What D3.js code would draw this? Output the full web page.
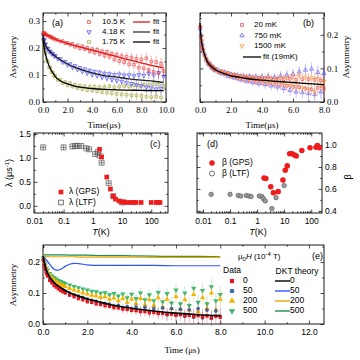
<!DOCTYPE html>
<html lang="en">
<head>
<meta charset="utf-8">
<script src="https://d3js.org/d3.v7.min.js"></script>
<style>
  body { margin: 0; background: #fff; }
  .serif text { font-family: "Liberation Serif", "DejaVu Serif", serif; }
  .sans text { font-family: "Liberation Sans", Arial, sans-serif; }
</style>
</head>
<body>
<div id="chart"></div>
<script>
// ---------- panel (a): asymmetry vs time at three temperatures ----------
const timeA = [0.02,0.06,0.1,0.15,0.2,0.3,0.4,0.5,0.6,0.7,0.8,0.9,
  1.0,1.2,1.4,1.6,1.8,2.0,2.2,2.4,2.6,2.8,3.0,3.2,3.4,3.6,3.8,4.0,4.2,4.4,4.6,4.8,
  5.0,5.2,5.4,5.6,5.8,6.0,6.2,6.4,6.6,6.8,7.0,7.2,7.4,7.6,7.8,8.0,8.2,8.4,8.6,8.8,
  9.0,9.2,9.4,9.6,9.8];
const asym105K = [0.256,0.252,0.257,0.250,0.253,0.248,0.246,0.244,0.240,0.241,0.235,0.236,
  0.231,0.230,0.224,0.226,0.218,0.219,0.212,0.216,0.205,0.210,0.199,0.207,0.196,0.201,0.188,0.196,
  0.183,0.194,0.178,0.188,0.172,0.186,0.168,0.179,0.158,0.175,0.152,0.170,0.148,0.168,0.140,0.165,
  0.138,0.160,0.128,0.158,0.125,0.162,0.118,0.150,0.112,0.148,0.108,0.142,0.115];
const asym418K = [0.248,0.232,0.229,0.215,0.214,0.200,0.198,0.187,0.188,0.178,0.180,0.170,
  0.172,0.160,0.160,0.147,0.150,0.137,0.141,0.128,0.134,0.120,0.127,0.113,0.122,0.107,0.117,0.101,
  0.113,0.097,0.110,0.092,0.106,0.088,0.104,0.083,0.101,0.080,0.103,0.076,0.099,0.072,0.100,0.068,
  0.097,0.064,0.101,0.060,0.098,0.055,0.105,0.052,0.100,0.048,0.108,0.050,0.095];
const asym175K = [0.232,0.208,0.203,0.184,0.180,0.156,0.149,0.129,0.127,0.111,0.110,0.096,
  0.098,0.082,0.083,0.070,0.074,0.062,0.070,0.057,0.064,0.052,0.060,0.048,0.058,0.045,0.056,0.043,
  0.057,0.040,0.055,0.037,0.056,0.035,0.058,0.033,0.055,0.030,0.057,0.028,0.059,0.027,0.058,0.025,
  0.062,0.024,0.060,0.022,0.064,0.020,0.063,0.018,0.066,0.020,0.064,0.017,0.060];
const errA = [0.003,0.003,0.003,0.003,0.003,0.003,0.003,0.003,0.004,0.004,0.004,0.004,
  0.004,0.005,0.005,0.005,0.006,0.006,0.006,0.007,0.007,0.007,0.008,0.008,0.008,0.009,0.009,0.010,
  0.010,0.010,0.011,0.011,0.012,0.012,0.012,0.013,0.013,0.014,0.014,0.015,0.015,0.016,0.016,0.017,
  0.017,0.018,0.018,0.019,0.019,0.020,0.020,0.021,0.021,0.022,0.022,0.023,0.023];
const fitTimeA = [0,0.1,0.2,0.3,0.5,0.75,1,1.5,2,2.5,3,4,5,6,7,8,9,9.8];
const fit105K = [0.255,0.253,0.251,0.249,0.245,0.240,0.233,0.225,0.217,0.210,0.204,0.192,0.180,0.168,0.156,0.145,0.134,0.127];
const fit418K = [0.250,0.226,0.212,0.203,0.190,0.179,0.170,0.154,0.141,0.130,0.122,0.108,0.098,0.092,0.086,0.081,0.077,0.073];
const fit175K = [0.236,0.200,0.177,0.160,0.133,0.112,0.094,0.076,0.067,0.060,0.055,0.050,0.047,0.045,0.044,0.043,0.042,0.042];

// ---------- panel (b): low temperature runs ----------
const timeB = [0.02,0.06,0.1,0.15,0.2,0.3,0.4,0.5,0.6,0.7,0.8,0.9,
  1.0,1.2,1.4,1.6,1.8,2.0,2.2,2.4,2.6,2.8,3.0,3.2,3.4,3.6,3.8,4.0,4.2,4.4,4.6,4.8,
  5.0,5.2,5.4,5.6,5.8,6.0,6.2,6.4,6.6,6.8,7.0,7.2,7.4,7.6,7.8,8.0];
const asym20mK = [0.224,0.195,0.183,0.163,0.157,0.137,0.130,0.115,0.115,0.105,0.106,0.096,
  0.098,0.088,0.092,0.082,0.087,0.075,0.082,0.070,0.078,0.066,0.076,0.063,0.074,0.060,0.072,0.058,
  0.071,0.055,0.070,0.053,0.069,0.050,0.068,0.048,0.069,0.045,0.066,0.044,0.068,0.040,0.067,0.038,
  0.066,0.042,0.064,0.040];
const asym750mK = [0.218,0.200,0.176,0.170,0.152,0.143,0.125,0.121,0.110,0.111,0.100,0.102,
  0.093,0.095,0.084,0.089,0.077,0.083,0.072,0.080,0.066,0.078,0.062,0.077,0.058,0.076,0.055,0.075,
  0.052,0.076,0.048,0.074,0.045,0.078,0.040,0.080,0.035,0.083,0.030,0.090,0.028,0.095,0.025,0.098,
  0.022,0.088,0.030,0.085];
const asym1500mK = [0.221,0.193,0.181,0.168,0.153,0.141,0.126,0.119,0.112,0.106,0.104,0.098,
  0.099,0.090,0.090,0.086,0.084,0.080,0.079,0.077,0.074,0.075,0.072,0.071,0.070,0.069,0.066,0.070,
  0.062,0.071,0.060,0.068,0.058,0.070,0.054,0.072,0.050,0.075,0.046,0.078,0.042,0.074,0.038,0.072,
  0.030,0.070,0.048,0.062];
const errB = [0.003,0.003,0.003,0.003,0.003,0.003,0.003,0.003,0.003,0.003,0.003,0.003,
  0.004,0.004,0.005,0.005,0.006,0.006,0.007,0.007,0.008,0.008,0.009,0.009,0.010,0.010,0.011,0.011,
  0.012,0.012,0.013,0.013,0.014,0.014,0.015,0.015,0.016,0.016,0.017,0.017,0.018,0.018,0.019,0.019,
  0.020,0.020,0.021,0.021];
const fitTimeB = [0,0.05,0.1,0.2,0.3,0.5,0.75,1,1.5,2,2.5,3,4,5,6,7,8];
const fit19mK = [0.235,0.200,0.180,0.155,0.140,0.118,0.105,0.096,0.085,0.078,0.074,0.070,0.065,0.061,0.058,0.055,0.052];

// ---------- panel (c): relaxation rate lambda vs T ----------
const tempLamGPS = [1.7,2.0,3.0,4.0,5.0,6.0,8.0,10,12,15,20,25,30,45,100,150,175,200];
const lamGPS = [1.18,1.02,0.60,0.35,0.20,0.14,0.10,0.08,0.08,0.07,0.07,0.07,0.07,0.07,0.07,0.07,0.07,0.07];
const tempLamLTF = [0.02,0.1,0.2,0.25,0.3,0.4,0.6,0.75,1.2,1.5,1.7,2.0,3.5,5.0,10];
const lamLTF = [1.22,1.22,1.24,1.25,1.25,1.25,1.20,1.18,1.08,1.12,1.05,0.90,0.47,0.20,0.07];

// ---------- panel (d): stretching exponent beta vs T ----------
const tempBetaGPS = [1.8,2.1,3.2,4.0,6.0,9.0,11,13,16,20,24,28,45,90,150,170,200];
const betaGPS = [0.70,0.695,0.62,0.565,0.575,0.68,0.77,0.81,0.92,0.92,0.91,0.90,0.95,0.975,0.98,0.995,0.975];
const tempBetaLTF = [0.02,0.1,0.2,0.25,0.4,0.5,0.6,1.2,1.5,1.7,2.0,3.5,5.0,10];
const betaLTF = [0.55,0.55,0.54,0.535,0.54,0.535,0.53,0.535,0.53,0.51,0.49,0.42,0.52,0.63];

// ---------- panel (e): longitudinal field runs + DKT theory ----------
const fieldLabels = ["0","50","200","500"];
const asymH0 = [0.205,0.188,0.176,0.163,0.155,0.141,0.133,0.124,0.119,0.113,0.108,0.104,
  0.100,0.093,0.088,0.082,0.078,0.072,0.070,0.065,0.063,0.059,0.057,0.053,0.052,0.048,0.047,0.044,
  0.043,0.040,0.040,0.036,0.037,0.034,0.034,0.031,0.032,0.029,0.030,0.027,0.028,0.025,0.027,0.023,
  0.026,0.020,0.025,0.022];
const asymH50 = [0.208,0.192,0.180,0.168,0.160,0.146,0.138,0.130,0.124,0.118,0.114,0.110,
  0.106,0.100,0.094,0.090,0.085,0.080,0.076,0.073,0.068,0.066,0.064,0.058,0.060,0.052,0.056,0.048,
  0.055,0.042,0.054,0.040,0.050,0.036,0.052,0.030,0.050,0.028,0.048,0.025,0.046,0.022,0.050,0.020,
  0.045,0.018,0.042,0.025];
const asymH200 = [0.210,0.196,0.186,0.176,0.168,0.156,0.148,0.142,0.136,0.131,0.127,0.124,
  0.121,0.115,0.110,0.106,0.100,0.097,0.093,0.091,0.086,0.088,0.080,0.084,0.075,0.082,0.070,0.080,
  0.066,0.082,0.062,0.078,0.060,0.085,0.055,0.080,0.050,0.088,0.048,0.078,0.045,0.095,0.040,0.085,
  0.050,0.100,0.045,0.080];
const asymH500 = [0.212,0.200,0.190,0.181,0.174,0.163,0.156,0.150,0.145,0.140,0.137,0.134,
  0.131,0.126,0.121,0.117,0.113,0.110,0.106,0.104,0.099,0.101,0.094,0.098,0.090,0.097,0.085,0.096,
  0.082,0.100,0.078,0.094,0.075,0.102,0.072,0.098,0.068,0.110,0.065,0.100,0.060,0.115,0.070,0.108,
  0.065,0.120,0.075,0.095];
const errE = [0.004,0.004,0.004,0.004,0.004,0.004,0.004,0.004,0.004,0.004,0.004,0.004,
  0.005,0.005,0.006,0.006,0.007,0.008,0.008,0.009,0.010,0.010,0.011,0.012,0.012,0.013,0.014,0.014,
  0.015,0.016,0.016,0.017,0.018,0.018,0.019,0.020,0.020,0.021,0.022,0.022,0.023,0.024,0.024,0.025,
  0.026,0.026,0.027,0.028];
const dktTime = [0,0.1,0.2,0.3,0.4,0.5,0.6,0.7,0.8,1.0,1.2,1.4,1.6,2,2.5,3,4,5,6,7,8];
const dktH0 = [0.220,0.185,0.165,0.152,0.142,0.134,0.127,0.122,0.117,0.108,0.101,0.095,0.090,0.081,0.072,0.063,0.051,0.042,0.035,0.030,0.027];
const dktH50 = [0.218,0.212,0.203,0.193,0.184,0.177,0.174,0.174,0.177,0.186,0.193,0.196,0.195,0.191,0.189,0.189,0.189,0.189,0.188,0.188,0.188];
const dktH200 = [0.221,0.219,0.218,0.217,0.217,0.217,0.217,0.217,0.217,0.217,0.217,0.217,0.216,0.216,0.216,0.216,0.216,0.215,0.215,0.215,0.215];
const dktH500 = [0.223,0.223,0.223,0.223,0.223,0.223,0.223,0.223,0.223,0.223,0.222,0.222,0.222,0.222,0.221,0.221,0.220,0.219,0.218,0.218,0.217];

// ======================================================================
const svg = d3.select("#chart").append("svg").attr("width", 360).attr("height", 360);

const sym = (type, size) => d3.symbol().type(type).size(size)();
const pts = (xs, ys) => xs.map((x, i) => ({x: x, y: ys[i]}));

// draws a framed panel with inward ticks on all four sides
function panel(o) {
  const g = svg.append("g").attr("class", o.font);
  const x = o.x, y = o.y;
  const [x0, x1] = x.range(), [y0, y1] = y.range();
  const ax = (axis, tr, vals, size, fmt) => {
    const a = g.append("g").attr("transform", tr)
      .call(axis.tickValues(vals).tickSize(size).tickPadding(3).tickFormat(fmt || ""));
    a.select(".domain").remove();
    a.selectAll("line").attr("stroke", "#000").attr("stroke-width", 0.7);
    a.selectAll("text").attr("font-size", o.fs || 9).attr("fill", "#000");
    return a;
  };
  // minor ticks first, major after
  ax(d3.axisBottom(x), `translate(0,${y0})`, o.xminor, -1.8);
  ax(d3.axisTop(x), `translate(0,${y1})`, o.xminor, -1.8);
  ax(d3.axisLeft(y), `translate(${x0},0)`, o.yminor, -1.8);
  ax(d3.axisRight(y), `translate(${x1},0)`, o.yminor, -1.8);
  ax(d3.axisBottom(x), `translate(0,${y0})`, o.xmajor, -3.5, o.xfmt).selectAll("text").attr("dy", "0.9em");
  ax(d3.axisTop(x), `translate(0,${y1})`, o.xmajor, -3.5);
  ax(d3.axisLeft(y), `translate(${x0},0)`, o.ymajor, -3.5, o.yleft ? o.yfmt : null);
  ax(d3.axisRight(y), `translate(${x1},0)`, o.ymajor, -3.5, o.yleft ? null : o.yfmt);
  g.append("rect").attr("x", x0).attr("y", y1).attr("width", x1 - x0).attr("height", y0 - y1)
    .attr("fill", "none").attr("stroke", "#000").attr("stroke-width", 0.9);
  const body = svg.append("g");
  return body;
}

function scatter(g, data, x, y, o) {
  if (o.err) {
    g.append("g").selectAll("line").data(data).join("line")
      .attr("x1", d => x(d.x)).attr("x2", d => x(d.x))
      .attr("y1", d => y(d.y - d.e)).attr("y2", d => y(d.y + d.e))
      .attr("stroke", o.color).attr("stroke-width", 0.6).attr("opacity", o.errOp || 0.6);
  }
  g.append("g").selectAll("path").data(data).join("path")
    .attr("d", sym(o.type, o.size))
    .attr("transform", d => `translate(${x(d.x)},${y(d.y)})${o.flip ? " rotate(180)" : ""}`)
    .attr("fill", o.fill || "none")
    .attr("stroke", o.stroke || o.color).attr("stroke-width", o.sw || 0.6);
}

function curve(g, xs, ys, x, y, color, w) {
  g.append("path").datum(pts(xs, ys))
    .attr("d", d3.line().x(d => x(d.x)).y(d => y(d.y)).curve(d3.curveMonotoneX))
    .attr("fill", "none").attr("stroke", color).attr("stroke-width", w || 1.3);
}

function label(txt, x, y, o) {
  const t = svg.append("text").attr("x", x).attr("y", y)
    .attr("font-family", o.serif ? "Liberation Serif, serif" : "Liberation Sans, Arial, sans-serif")
    .attr("font-size", o.fs || 9).attr("text-anchor", o.anchor || "start")
    .attr("dominant-baseline", "middle").attr("fill", "#000");
  if (o.rot) t.attr("transform", `rotate(${o.rot},${x},${y})`);
  if (o.html) t.html(txt); else t.text(txt);
  return t;
}

const range = (a, b, s) => d3.range(a, b + 1e-9, s);
const f1 = d3.format(".1f");

// ---------------- (a) ----------------
{
  const x = d3.scaleLinear([0, 10], [43, 166]);
  const y = d3.scaleLinear([0, 0.33], [102, 13]);
  const g = panel({x, y, font: "serif", xmajor: range(0, 10, 2), xminor: range(1, 9, 2),
    ymajor: [0, 0.1, 0.2, 0.3], yminor: [0.05, 0.15, 0.25], xfmt: f1, yfmt: f1, yleft: true});
  const c105 = "#ee2a2a", c418 = "#3a3aee", c175 = "#9c9c2c";
  scatter(g, timeA.map((t, i) => ({x: t, y: asym175K[i], e: errA[i]})), x, y, {type: d3.symbolSquare, size: 7, color: c175, err: true});
  scatter(g, timeA.map((t, i) => ({x: t, y: asym418K[i], e: errA[i]})), x, y, {type: d3.symbolTriangle, size: 7, color: c418, flip: true, err: true});
  scatter(g, timeA.map((t, i) => ({x: t, y: asym105K[i], e: errA[i]})), x, y, {type: d3.symbolSquare, size: 7, color: c105, err: true});
  curve(g, fitTimeA, fit105K, x, y, "#e01818");
  curve(g, fitTimeA, fit418K, x, y, "#222");
  curve(g, fitTimeA, fit175K, x, y, "#000");
  // legend
  const rows = [["10.5 K", c105, d3.symbolSquare, false, "#e01818"],
                ["4.18 K", c418, d3.symbolTriangle, true, "#333"],
                ["1.75 K", c175, d3.symbolSquare, false, "#000"]];
  rows.forEach((r, i) => {
    const yy = 22 + i * 10;
    svg.append("path").attr("d", sym(r[2], 8))
      .attr("transform", `translate(89,${yy})${r[3] ? " rotate(180)" : ""}`)
      .attr("fill", "none").attr("stroke", r[1]).attr("stroke-width", 0.7);
    label(r[0], 102, yy, {fs: 8});
    svg.append("line").attr("x1", 133).attr("x2", 150).attr("y1", yy).attr("y2", yy)
      .attr("stroke", r[4]).attr("stroke-width", 1.3);
    label("fit", 153, yy, {fs: 8});
  });
  label("(a)", 52, 24, {fs: 9});
  label("Asymmetry", 14, 57, {serif: true, rot: -90, anchor: "middle"});
  label("Time(\u03bcs)", 104, 126, {serif: true, anchor: "middle"});
}

// ---------------- (b) ----------------
{
  const x = d3.scaleLinear([0, 8], [200, 324]);
  const y = d3.scaleLinear([0, 0.265], [102, 13]);
  const g = panel({x, y, font: "serif", xmajor: range(0, 8, 2), xminor: range(1, 7, 2),
    ymajor: [0, 0.1, 0.2], yminor: [0.05, 0.15, 0.25], xfmt: f1, yfmt: f1, yleft: false});
  const c20 = "#e03c3c", c750 = "#4a4aff", c1500 = "#ff8a1c";
  scatter(g, timeB.map((t, i) => ({x: t, y: asym750mK[i], e: errB[i]})), x, y, {type: d3.symbolTriangle, size: 7, color: c750, err: true});
  scatter(g, timeB.map((t, i) => ({x: t, y: asym1500mK[i], e: errB[i]})), x, y, {type: d3.symbolTriangle, size: 7, color: c1500, flip: true, err: true});
  scatter(g, timeB.map((t, i) => ({x: t, y: asym20mK[i], e: errB[i]})), x, y, {type: d3.symbolSquare, size: 7, color: c20, err: true});
  curve(g, fitTimeB, fit19mK, x, y, "#000");
  const rows = [["20 mK", c20, d3.symbolSquare, false], ["750 mK", c750, d3.symbolTriangle, false],
                ["1500 mK", c1500, d3.symbolTriangle, true]];
  rows.forEach((r, i) => {
    const yy = 25 + i * 10.5;
    svg.append("path").attr("d", sym(r[2], 8))
      .attr("transform", `translate(242,${yy})${r[3] ? " rotate(180)" : ""}`)
      .attr("fill", "none").attr("stroke", r[1]).attr("stroke-width", 0.7);
    label(r[0], 254, yy, {fs: 8});
  });
  svg.append("line").attr("x1", 243).attr("x2", 261).attr("y1", 57).attr("y2", 57)
    .attr("stroke", "#000").attr("stroke-width", 1.3);
  label("fit (19mK)", 263, 57, {fs: 8});
  label("(b)", 303, 24, {fs: 9});
  label("Asymmetry", 347, 57, {serif: true, rot: -90, anchor: "middle"});
  label("Time(\u03bcs)", 262, 126, {serif: true, anchor: "middle"});
}

// log-axis helpers
const decades = [0.01, 0.1, 1, 10, 100];
const logMinor = (lo, hi) => {
  const out = [];
  [0.001, 0.01, 0.1, 1, 10, 100].forEach(d => [2,3,4,5,6,7,8,9].forEach(m => { if (d*m > lo && d*m < hi) out.push(d*m); }));
  return out;
};
const logFmt = d => (d < 1 ? String(d) : d3.format("d")(d));

// ---------------- (c) ----------------
{
  const x = d3.scaleLog([0.0097, 375], [34, 168]);
  const y = d3.scaleLinear([-0.15, 1.52], [213, 133]);
  const g = panel({x, y, font: "sans", fs: 8.5, xmajor: decades, xminor: logMinor(0.0097, 375),
    ymajor: [0, 0.5, 1.0, 1.5], yminor: [0.25, 0.75, 1.25], xfmt: logFmt, yfmt: f1, yleft: true});
  // LTF: open square with a cross
  const ltf = pts(tempLamLTF, lamLTF);
  g.append("g").selectAll("path").data(ltf).join("path")
    .attr("transform", d => `translate(${x(d.x)},${y(d.y)})`)
    .attr("d", "M-2.5,-2.5H2.5V2.5H-2.5Z M-2.5,0H2.5 M0,-2.5V2.5")
    .attr("fill", "none").attr("stroke", "#555").attr("stroke-width", 0.7);
  scatter(g, pts(tempLamGPS, lamGPS), x, y, {type: d3.symbolSquare, size: 22, color: "#ee1c1c", fill: "#ee1c1c", stroke: "none"});
  svg.append("path").attr("d", sym(d3.symbolSquare, 22)).attr("transform", "translate(61,192)").attr("fill", "#ee1c1c");
  label("\u03bb (GPS)", 69, 192, {fs: 8.5});
  svg.append("path").attr("d", sym(d3.symbolSquare, 22)).attr("transform", "translate(61,202.5)")
    .attr("fill", "none").attr("stroke", "#333").attr("stroke-width", 0.7);
  label("\u03bb (LTF)", 69, 202.5, {fs: 8.5});
  label("(c)", 150, 145, {fs: 9});
  label("\u03bb (\u03bcs<tspan dy='-3' font-size='6'>-1</tspan><tspan dy='3'>)</tspan>", 10, 173, {rot: -90, anchor: "middle", html: true});
  label("<tspan font-style='italic'>T</tspan>(K)", 101, 233, {anchor: "middle", html: true});
}

// ---------------- (d) ----------------
{
  const x = d3.scaleLog([0.006, 250], [197, 322]);
  const y = d3.scaleLinear([0.38, 1.11], [213, 133]);
  const g = panel({x, y, font: "sans", fs: 8.5, xmajor: decades, xminor: logMinor(0.006, 250),
    ymajor: [0.4, 0.6, 0.8, 1.0], yminor: [0.5, 0.7, 0.9], xfmt: logFmt, yfmt: f1, yleft: false});
  scatter(g, pts(tempBetaLTF, betaLTF), x, y, {type: d3.symbolCircle, size: 16, color: "#555", fill: "#9a9a9a", sw: 0.6});
  scatter(g, pts(tempBetaGPS, betaGPS), x, y, {type: d3.symbolCircle, size: 24, color: "#ee1c1c", fill: "#ee1c1c", stroke: "none"});
  svg.append("path").attr("d", sym(d3.symbolCircle, 24)).attr("transform", "translate(212,163)").attr("fill", "#ee1c1c");
  label("\u03b2 (GPS)", 222, 163, {fs: 8.5});
  svg.append("path").attr("d", sym(d3.symbolCircle, 20)).attr("transform", "translate(212,173.5)")
    .attr("fill", "none").attr("stroke", "#333").attr("stroke-width", 0.7);
  label("\u03b2 (LTF)", 222, 173.5, {fs: 8.5});
  label("(d)", 207, 145, {fs: 9});
  label("\u03b2", 349, 177, {rot: -90, anchor: "middle"});
  label("<tspan font-style='italic'>T</tspan>(K)", 258, 233, {anchor: "middle", html: true});
}

// ---------------- (e) ----------------
{
  const x = d3.scaleLinear([0, 12.68], [43, 324]);
  const y = d3.scaleLinear([0, 0.255], [324, 245]);
  const g = panel({x, y, font: "sans", fs: 8.5, xmajor: range(0, 12, 2), xminor: range(1, 11, 2),
    ymajor: [0, 0.1, 0.2], yminor: [0.05, 0.15, 0.25], xfmt: f1, yfmt: f1, yleft: true});
  const dataCol = ["#e8141c", "#3a6aa8", "#f5b400", "#3cb870"];
  const dktCol = ["#000", "#2f55ff", "#f0a400", "#179050"];
  const series = [asymH0, asymH50, asymH200, asymH500];
  const shapes = [[d3.symbolSquare, false, 11], [d3.symbolCircle, false, 11], [d3.symbolTriangle, false, 12], [d3.symbolTriangle, true, 12]];
  [3, 2, 1, 0].forEach(k => {
    scatter(g, timeB.map((t, i) => ({x: t, y: series[k][i], e: errE[i]})), x, y,
      {type: shapes[k][0], flip: shapes[k][1], size: shapes[k][2], color: dataCol[k], fill: dataCol[k], stroke: "none", err: true, errOp: 0.45});
  });
  [dktH500, dktH200, dktH50, dktH0].forEach((d, j) => curve(g, dktTime, d, x, y, dktCol[3 - j], j === 3 ? 1.6 : 1.2));
  // legends
  label("Data", 232, 271, {fs: 8.5, anchor: "middle"});
  label("DKT theory", 297, 272, {fs: 8.5, anchor: "middle"});
  fieldLabels.forEach((f, k) => {
    const yy = 281 + k * 10;
    svg.append("path").attr("d", sym(shapes[k][0], shapes[k][2] + 6))
      .attr("transform", `translate(232,${yy})${shapes[k][1] ? " rotate(180)" : ""}`)
      .attr("fill", dataCol[k]);
    label(f, 243, yy, {fs: 8.5});
    svg.append("line").attr("x1", 275).attr("x2", 290).attr("y1", yy).attr("y2", yy)
      .attr("stroke", dktCol[k]).attr("stroke-width", 1.4);
    label(f, 290, yy, {fs: 8.5});
  });
  label("\u03bc<tspan dy='2' font-size='6'>0</tspan><tspan dy='-2' font-style='italic'>H</tspan> (10<tspan dy='-3' font-size='6'>-4</tspan><tspan dy='3'> T)</tspan>", 238, 257, {fs: 8, html: true});
  label("(e)", 312, 257, {fs: 9});
  label("Asymmetry", 14, 285, {serif: true, rot: -90, anchor: "middle"});
  label("Time (\u03bcs)", 182, 351, {serif: true, anchor: "middle"});
}
</script>
</body>
</html>
